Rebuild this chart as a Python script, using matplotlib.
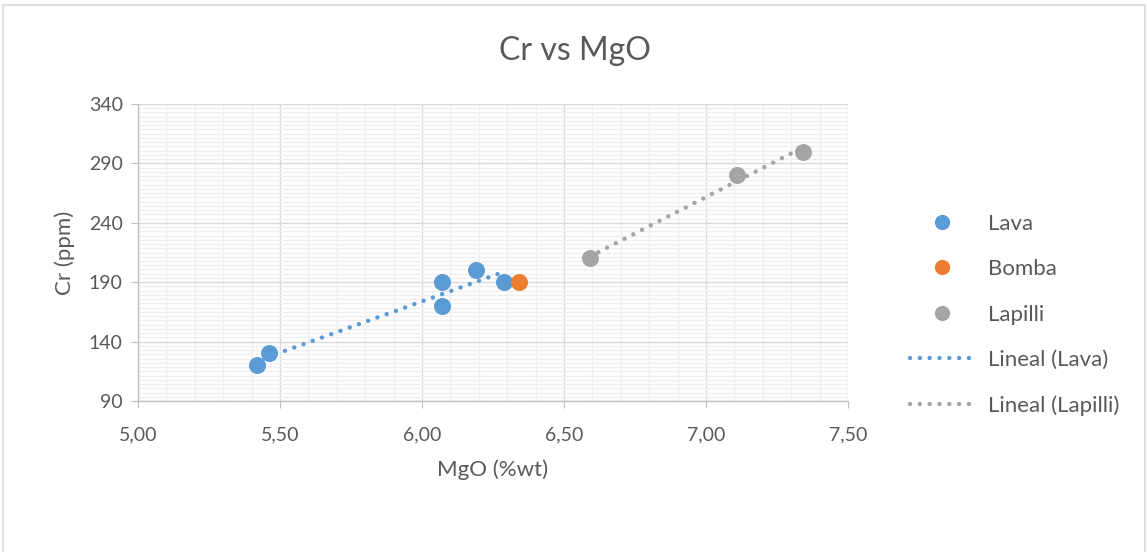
import numpy as np
import matplotlib
matplotlib.use("Agg")
import matplotlib.pyplot as plt
from matplotlib.ticker import MultipleLocator, FixedLocator, FuncFormatter
from matplotlib.lines import Line2D
from matplotlib.patches import Rectangle

# Sample data: MgO (%wt) vs Cr (ppm)
lava_mgo = [5.42, 5.46, 6.07, 6.07, 6.19, 6.29]
lava_cr = [120, 130, 190, 170, 200, 190]
bomba_mgo = [6.34]
bomba_cr = [190]
lapilli_mgo = [6.59, 7.11, 7.34]
lapilli_cr = [210, 280, 300]

y_ticks = [90, 140, 190, 240, 290, 340]

C_LAVA = "#5B9BD5"
C_BOMBA = "#ED7D31"
C_LAPILLI = "#A5A5A5"
TXT = "#595959"

plt.rcParams["font.family"] = ["Lato", "DejaVu Sans"]

W, H = 1147, 552
fig = plt.figure(figsize=(W / 100, H / 100), dpi=100)
ax = fig.add_axes([138 / W, 1 - 401 / H, (848 - 138) / W, (401 - 104) / H])

# chart frame
fig.patches.append(Rectangle((3 / W, -0.05), (1145 - 3) / W, 1.05 - 5 / H,
                             transform=fig.transFigure, fill=False,
                             edgecolor="#D9D9D9", linewidth=1.2, zorder=0))

ax.set_xlim(5.0, 7.5)
ax.set_ylim(90, 340)
ax.xaxis.set_major_locator(MultipleLocator(0.5))
ax.xaxis.set_minor_locator(MultipleLocator(0.1))
ax.yaxis.set_major_locator(FixedLocator(y_ticks))
ax.yaxis.set_minor_locator(FixedLocator(np.linspace(90, 340, 5 * 14 + 1)))
ax.xaxis.set_major_formatter(FuncFormatter(lambda v, p: f"{v:.2f}".replace(".", ",")))
ax.yaxis.set_major_formatter(FuncFormatter(lambda v, p: f"{v:.0f}"))

ax.grid(which="minor", color="#EFEFEF", linewidth=1.0)
ax.grid(which="major", color="#D9D9D9", linewidth=1.0)
ax.set_axisbelow(True)

for s in ("top", "right"):
    ax.spines[s].set_visible(False)
for s in ("left", "bottom"):
    ax.spines[s].set_color("#BFBFBF")
    ax.spines[s].set_linewidth(1.0)

ax.tick_params(which="major", length=5, color="#BFBFBF", labelsize=14,
               labelcolor=TXT, pad=6)
ax.tick_params(which="minor", length=0)
ax.tick_params(axis="x", pad=13)

# scatter series
ms = 150
ax.scatter(lava_mgo, lava_cr, s=ms, color=C_LAVA, zorder=3, linewidths=0)
ax.scatter(bomba_mgo, bomba_cr, s=ms, color=C_BOMBA, zorder=3, linewidths=0)
ax.scatter(lapilli_mgo, lapilli_cr, s=ms, color=C_LAPILLI, zorder=3, linewidths=0)

# linear trend lines over each series' range
dot = (0, (0.01, 2.2))
for xs, ys, col in ((lava_mgo, lava_cr, C_LAVA), (lapilli_mgo, lapilli_cr, C_LAPILLI)):
    m, b = np.polyfit(xs, ys, 1)
    xx = np.array([min(xs), max(xs)])
    ax.plot(xx, m * xx + b, color=col, linewidth=3.2, linestyle=dot,
            dash_capstyle="round", zorder=2)

fig.text(575 / W, 1 - 51 / H, "Cr vs MgO", fontsize=23, color=TXT,
         ha="center", va="center")
ax.set_xlabel("MgO (%wt)", fontsize=16, color=TXT, labelpad=12)
ax.set_ylabel("Cr (ppm)", fontsize=16, color=TXT, labelpad=10)

handles = [
    Line2D([], [], marker="o", linestyle="none", markersize=11, color=C_LAVA, markeredgewidth=0),
    Line2D([], [], marker="o", linestyle="none", markersize=11, color=C_BOMBA, markeredgewidth=0),
    Line2D([], [], marker="o", linestyle="none", markersize=11, color=C_LAPILLI, markeredgewidth=0),
    Line2D([], [], color=C_LAVA, linewidth=3.2, linestyle=dot, dash_capstyle="round"),
    Line2D([], [], color=C_LAPILLI, linewidth=3.2, linestyle=dot, dash_capstyle="round"),
]
labels = ["Lava", "Bomba", "Lapilli", "Lineal (Lava)", "Lineal (Lapilli)"]
leg = fig.legend(handles, labels, loc="upper left",
                 bbox_to_anchor=(901 / W, 1 - 205 / H),
                 frameon=False, fontsize=16, labelcolor=TXT,
                 handlelength=2.85, handletextpad=0.68, labelspacing=1.14,
                 borderaxespad=0)

fig.savefig("out.png", dpi=100)
